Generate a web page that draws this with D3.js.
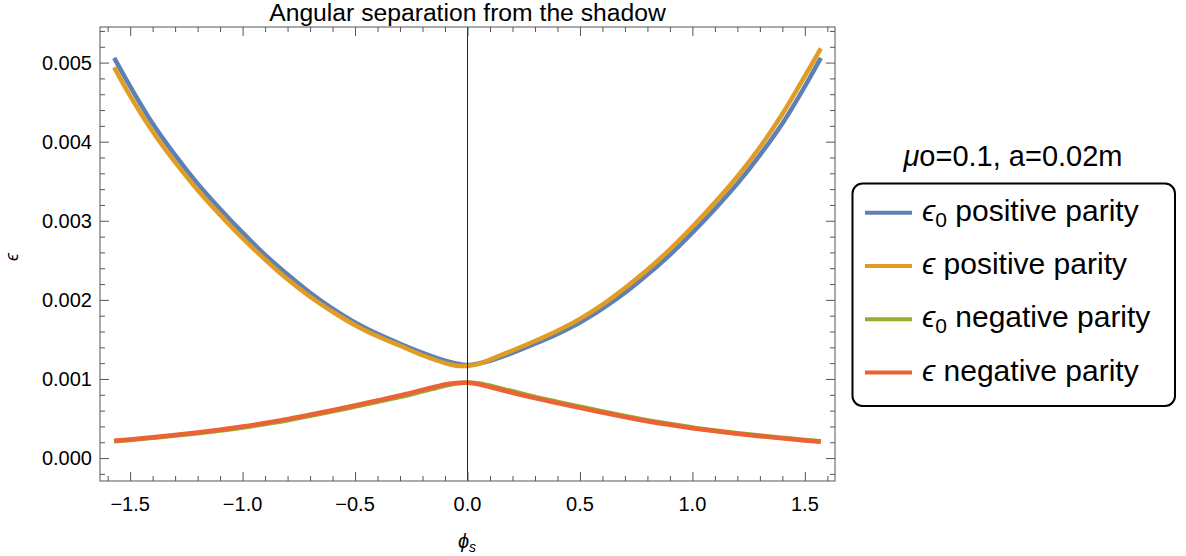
<!DOCTYPE html>
<html lang="en">

<head>
    <meta charset="UTF-8">
    <script src="https://cdn.jsdelivr.net/npm/d3@7/dist/d3.min.js"></script>
    <title>Angular separation from the shadow</title>
    <style>
        html, body { margin: 0; padding: 0; background: #fff; overflow: hidden; }
        #mainsvg { display: block; }
        svg text { font-family: 'Liberation Sans', Arial, sans-serif; fill: #000; }
    </style>
</head>

<body>
    <svg id="mainsvg" width="1186" height="556"></svg>
    <script>
        // phi_s sample points and the four curves (values in units of 1e-3)
        const phi = [-1.571, -1.5, -1.4, -1.3, -1.2, -1.1, -1.0, -0.9, -0.8, -0.7, -0.6, -0.5, -0.4, -0.3, -0.2, -0.1, -0.05,
            0, 0.05, 0.1, 0.2, 0.3, 0.4, 0.5, 0.6, 0.7, 0.8, 0.9, 1.0, 1.1, 1.2, 1.3, 1.4, 1.5, 1.571]
        const eps0Pos = [5.06, 4.70, 4.23, 3.83, 3.47, 3.15, 2.85, 2.57, 2.32, 2.09, 1.89, 1.715, 1.57, 1.445, 1.33, 1.23, 1.195,
            1.176, 1.195, 1.23, 1.33, 1.445, 1.57, 1.715, 1.89, 2.09, 2.32, 2.57, 2.85, 3.15, 3.47, 3.83, 4.23, 4.70, 5.06]
        const epsPos = [4.94, 4.58, 4.13, 3.74, 3.39, 3.075, 2.78, 2.51, 2.26, 2.04, 1.85, 1.68, 1.54, 1.42, 1.30, 1.20, 1.168,
            1.165, 1.19, 1.245, 1.36, 1.48, 1.61, 1.76, 1.94, 2.15, 2.38, 2.64, 2.925, 3.23, 3.56, 3.93, 4.35, 4.83, 5.18]
        const eps0Neg = [0.212, 0.229, 0.256, 0.284, 0.315, 0.349, 0.387, 0.431, 0.478, 0.533, 0.590, 0.650, 0.711, 0.773, 0.844, 0.915, 0.943,
            0.955, 0.943, 0.915, 0.844, 0.773, 0.711, 0.650, 0.590, 0.533, 0.478, 0.431, 0.387, 0.349, 0.315, 0.284, 0.256, 0.229, 0.212]
        const epsNeg = [0.218, 0.236, 0.263, 0.292, 0.324, 0.359, 0.398, 0.443, 0.492, 0.547, 0.605, 0.665, 0.727, 0.791, 0.862, 0.93, 0.950,
            0.952, 0.933, 0.899, 0.826, 0.758, 0.696, 0.635, 0.576, 0.519, 0.466, 0.420, 0.378, 0.341, 0.307, 0.277, 0.249, 0.223, 0.207]

        const seriesNames = ['positive parity', 'positive parity', 'negative parity', 'negative parity']
        const seriesSub = ['0', '', '0', '']
        const xTicks = [-1.5, -1.0, -0.5, 0.0, 0.5, 1.0, 1.5]
        const yTicks = [0, 0.001, 0.002, 0.003, 0.004, 0.005]

        const colors = ['#5E81B5', '#E19C24', '#8FB032', '#EB6235']
        const series = [eps0Pos, epsPos, eps0Neg, epsNeg]

        const svg = d3.select('#mainsvg')
        const margin = { top: 27, left: 100, right: 351, bottom: 75 }
        const innerWidth = 1186 - margin.left - margin.right
        const innerHeight = 556 - margin.top - margin.bottom

        const xScale = d3.scaleLinear().domain([-1.634, 1.634]).range([0, innerWidth])
        const yScale = d3.scaleLinear().domain([-0.00029, 0.00545]).range([innerHeight, 0])

        const g = svg.append('g').attr('transform', `translate(${margin.left},${margin.top})`)

        // curves
        const line = d3.line()
            .x((d, i) => xScale(phi[i]))
            .y(d => yScale(d * 1e-3))
            .curve(d3.curveCatmullRom)
        series.forEach((s, k) => {
            g.append('path').datum(s)
                .attr('d', line)
                .attr('fill', 'none')
                .attr('stroke', colors[k])
                .attr('stroke-width', 4.5)
        })

        // vertical axis at phi = 0
        g.append('line')
            .attr('x1', xScale(0)).attr('x2', xScale(0))
            .attr('y1', 0).attr('y2', innerHeight)
            .attr('stroke', '#222').attr('stroke-width', 1)

        // frame with inward ticks
        const frameColor = '#555'
        const xMinor = d3.range(-16, 17).map(v => v / 10)
        const yMinor = d3.range(-1, 28).map(v => v * 0.0002)
        const isMajorX = v => xTicks.some(t => Math.abs(t - v) < 1e-9)
        const isMajorY = v => yTicks.some(t => Math.abs(t - v) < 1e-9)

        const bottomAxis = d3.axisBottom(xScale).tickValues(xMinor).tickSizeOuter(0)
        const topAxis = d3.axisTop(xScale).tickValues(xMinor).tickSizeOuter(0)
        const leftAxis = d3.axisLeft(yScale).tickValues(yMinor).tickSizeOuter(0)
        const rightAxis = d3.axisRight(yScale).tickValues(yMinor).tickSizeOuter(0)

        const gb = g.append('g').attr('transform', `translate(0,${innerHeight})`).call(bottomAxis)
        const gt = g.append('g').call(topAxis)
        const gl = g.append('g').call(leftAxis)
        const gr = g.append('g').attr('transform', `translate(${innerWidth},0)`).call(rightAxis)

        gb.selectAll('.tick line').attr('y2', d => isMajorX(d) ? -9 : -5)
        gt.selectAll('.tick line').attr('y2', d => isMajorX(d) ? 9 : 5)
        gl.selectAll('.tick line').attr('x2', d => isMajorY(d) ? 9 : 5)
        gr.selectAll('.tick line').attr('x2', d => isMajorY(d) ? -9 : -5)
        ;[gb, gt, gl, gr].forEach(a => {
            a.select('.domain').remove()
            a.selectAll('.tick text').remove()
            a.selectAll('.tick line').attr('stroke', frameColor).attr('stroke-width', 1)
        })
        g.append('rect').attr('width', innerWidth).attr('height', innerHeight)
            .attr('fill', 'none').attr('stroke', frameColor).attr('stroke-width', 1)

        // tick labels
        g.append('g').selectAll('text').data(xTicks).join('text')
            .attr('x', d => xScale(d)).attr('y', innerHeight + 30)
            .attr('text-anchor', 'middle').attr('font-size', 20)
            .text(d => (d < 0 ? '\u2212' : '') + Math.abs(d).toFixed(1))
        g.append('g').selectAll('text').data(yTicks).join('text')
            .attr('x', -8).attr('y', d => yScale(d) + 7)
            .attr('text-anchor', 'end').attr('font-size', 20)
            .text(d => d.toFixed(3))

        // title and axis labels
        svg.append('text').attr('x', margin.left + innerWidth / 2).attr('y', 21)
            .attr('text-anchor', 'middle').attr('font-size', 24.7)
            .text('Angular separation from the shadow')
        svg.append('text').attr('transform', 'translate(18,257) rotate(-90)')
            .attr('text-anchor', 'middle').attr('font-size', 18).attr('font-style', 'italic')
            .text('\u03F5')
        const xl = svg.append('text').attr('x', 467).attr('y', 548)
            .attr('text-anchor', 'middle').attr('font-size', 20).attr('font-style', 'italic')
        xl.append('tspan').text('\u03D5')
        xl.append('tspan').attr('font-size', 14).attr('dy', 4).text('s')

        // legend
        svg.append('text').attr('x', 1013).attr('y', 166)
            .attr('text-anchor', 'middle').attr('font-size', 29)
            .call(t => {
                t.append('tspan').attr('font-style', 'italic').text('\u03BC')
                t.append('tspan').text('o=0.1, a=0.02m')
            })
        svg.append('rect')
            .attr('x', 852.5).attr('y', 183.5).attr('width', 322.5).attr('height', 222.5)
            .attr('rx', 10).attr('fill', '#fff').attr('stroke', '#000').attr('stroke-width', 2)
        const rows = svg.append('g').selectAll('g').data(colors).join('g')
            .attr('transform', (d, i) => `translate(865,${212.7 + i * 53.3})`)
        rows.append('line').attr('x1', 0).attr('x2', 47)
            .attr('stroke', d => d).attr('stroke-width', 4)
        const lt = rows.append('text').attr('x', 57).attr('y', 8).attr('font-size', 30)
        lt.append('tspan').attr('font-style', 'italic').text('\u03F5')
        lt.append('tspan').attr('font-size', 21).attr('dy', 6).text((d, i) => seriesSub[i])
        lt.append('tspan').attr('dy', (d, i) => seriesSub[i] ? -6 : 0).text((d, i) => ' ' + seriesNames[i])
    </script>
</body>

</html>
